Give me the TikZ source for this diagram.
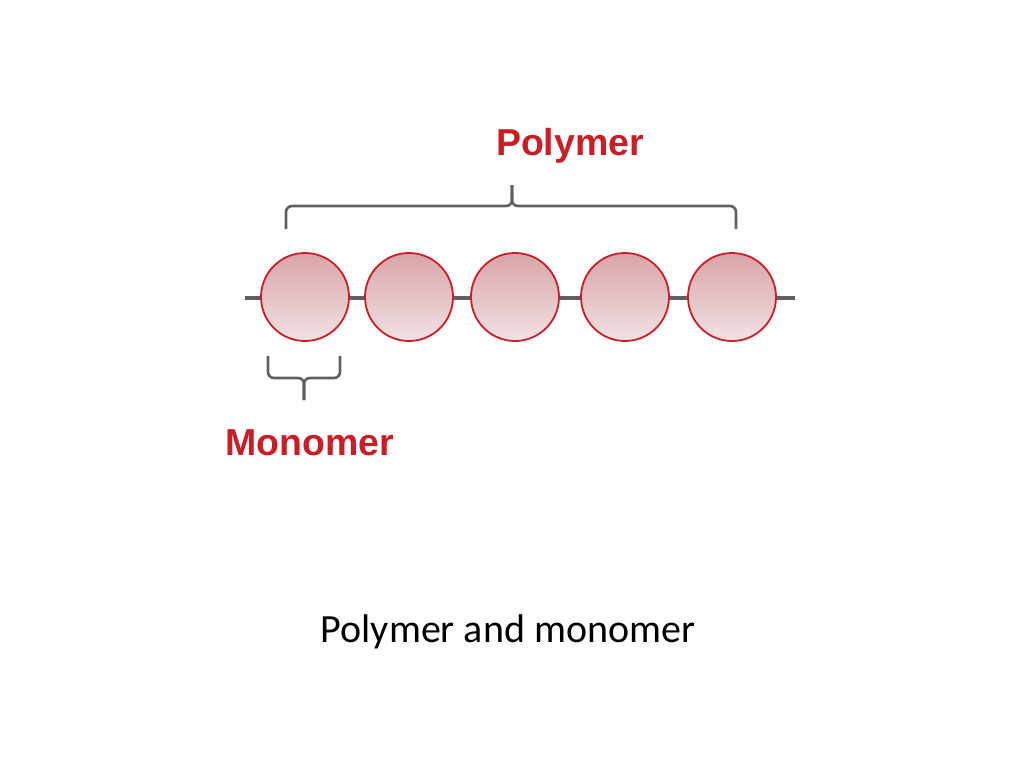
\documentclass[tikz,border=0pt]{standalone}
\usepackage{fontspec}
\setmainfont{Carlito}
\newfontfamily\headfont{Liberation Sans}
\begin{document}
\begin{tikzpicture}[x=1pt,y=-1pt]
\useasboundingbox (0,0) rectangle (1024,768);
\definecolor{mred}{HTML}{C81E28}
\definecolor{bgray}{HTML}{5F5F5F}
\definecolor{btop}{HTML}{D8A4A8}
\definecolor{bbot}{HTML}{F2E2E3}
\tikzset{bead/.style={circle,draw=mred,line width=1.8pt,minimum size=88pt,inner sep=0pt,top color=btop,bottom color=bbot},
 chain/.style={draw=bgray,line width=4.5pt},
 brace/.style={draw=bgray,line width=2.6pt,rounded corners=6pt},
 lbl/.style={text=mred,font=\headfont\bfseries\fontsize{37.5}{42}\selectfont}}
\coordinate (L) at (245,298);
\coordinate (R) at (795,298);
\path[chain] (L) -- (R);
\node[bead] (b1) at (305,297) {};
\node[bead] (b2) at (409,297) {};
\node[bead] (b3) at (515,297) {};
\node[bead] (b4) at (625,297) {};
\node[bead] (b5) at (732,297) {};
\node[lbl] (poly) at (570,146) {Polymer};
\node[lbl] (mono) at (310,443) {Monomer};
\path[brace] (286,229) -- (286,206) -- (512,206) -- (512,185);
\path[brace] (512,185) -- (512,206) -- (736,206) -- (736,229);
\path[brace] (268,356) -- (268,378) -- (304,378) -- (304,400);
\path[brace] (304,400) -- (304,378) -- (340,378) -- (340,356);
\node[font=\fontsize{40}{46}\selectfont] (cap) at (508,632) {Polymer and monomer};
\end{tikzpicture}
\end{document}
